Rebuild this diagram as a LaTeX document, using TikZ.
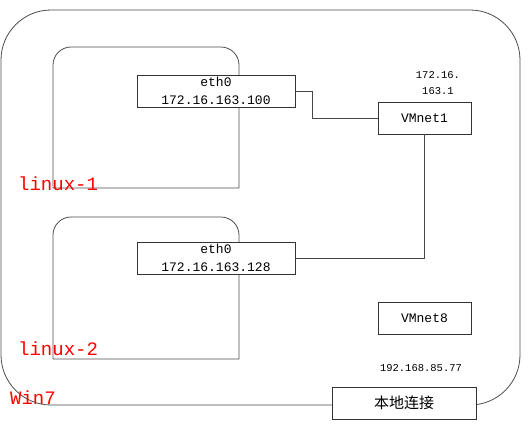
\documentclass[tikz,border=0pt]{standalone}
\usepackage{fontspec}
\setmonofont{Liberation Mono}
\newfontfamily\cjk{Noto Sans CJK SC}
\usetikzlibrary{positioning}

\begin{document}
\begin{tikzpicture}[
  x=1pt, y=-1pt,
  font=\ttfamily,
  frame/.style={draw=gray!60!black, line width=0.8pt},
  link/.style={draw=gray!55!black, line width=0.9pt},
  nic/.style={
    draw=black!80,
    fill=white,
    line width=0.8pt,
    minimum width=158pt,
    minimum height=32pt,
    inner sep=0pt,
    align=center,
    font=\ttfamily\fontsize{13}{18}\selectfont
  },
  vnet/.style={
    draw=black!80,
    fill=white,
    line width=0.8pt,
    minimum width=93pt,
    minimum height=32pt,
    inner sep=0pt,
    font=\ttfamily\fontsize{13}{16}\selectfont
  },
  host/.style={text=red, anchor=west, inner sep=0pt, font=\ttfamily\fontsize{19}{19}\selectfont},
  addr/.style={align=center, font=\ttfamily\fontsize{10.5}{16}\selectfont}
]
\useasboundingbox (0,0) rectangle (531,426);

% Win7 host and the two virtual machines.
\draw[frame, rounded corners=50pt] (1,10) rectangle (520,405);
\draw[frame] (239,188) -- (53,188) [rounded corners=18pt] -- (53,47) -- (239,47) [sharp corners] -- (239,188);
\draw[frame] (239,359) -- (53,359) [rounded corners=18pt] -- (53,217) -- (239,217) [sharp corners] -- (239,359);

% Interfaces and virtual switches.
\node[nic] (eth0a) at (216,91) {eth0\\172.16.163.100};
\node[nic] (eth0b) at (216,258) {eth0\\172.16.163.128};
\node[vnet] (vmnet1) at (424.5,118) {VMnet1};
\node[vnet] (vmnet8) at (424.5,318) {VMnet8};
\node[vnet, minimum width=144pt, font=\cjk\fontsize{15}{15}\selectfont] (local) at (404,403) {本地连接};

\node[addr] (gw1) at (438,83) {172.16.\\163.1};
\node[addr] (ipwin) at (421,368) {192.168.85.77};

\node[host] (linux1) at (18,184) {linux-1};
\node[host] (linux2) at (18,349) {linux-2};
\node[host] (win7) at (10,398) {Win7};

\draw[link] (eth0a.east) -- ++(17,0) |- (vmnet1.west);
\draw[link] (eth0b.east) -| (vmnet1.south);

\end{tikzpicture}
\end{document}
